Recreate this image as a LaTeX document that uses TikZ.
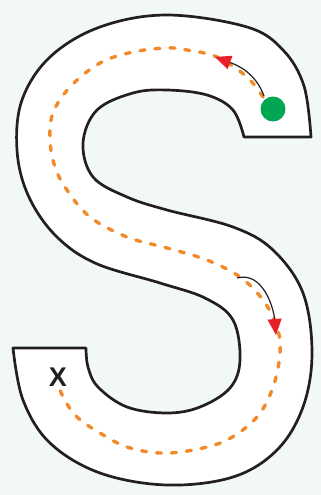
\documentclass[tikz,border=0pt]{standalone}
\usepackage{fontspec}
\setmainfont{Liberation Sans}
\usepackage{xcolor}
\usepackage{tikz}
\usetikzlibrary{arrows.meta}

\definecolor{bgmint}{HTML}{F1F8F5}
\definecolor{trackline}{HTML}{231F20}
\definecolor{pathorange}{HTML}{F28A2B}
\definecolor{startgreen}{HTML}{00A651}
\definecolor{tipred}{HTML}{E8202A}

\begin{document}
\begin{tikzpicture}[
    x=1pt, y=-1pt,
    track/.style={draw=trackline, line width=2.7pt, fill=white, line join=round},
    route/.style={draw=pathorange, line width=3.4pt, line cap=round, dash pattern=on 5pt off 10pt},
    startdot/.style={circle, fill=startgreen, minimum size=25pt, inner sep=0pt},
    goallabel/.style={font=\fontsize{27}{27}\selectfont\bfseries, text=trackline, inner sep=0pt},
    arr/.style={-{Triangle[length=16pt, width=14pt, color=tipred]}, line width=1.2pt, draw=trackline},
]

% === BACKGROUND ===
\fill[bgmint] (0,0) rectangle (321,495);
\useasboundingbox (0,0) rectangle (321,495);

% === S TRACK ===
\path[track] (244,137) -- (311,137)
    -- plot[smooth, tension=0.6] coordinates {(311,137) (304,86) (283,50) (247,27) (167,15)
       (100,27) (50,57) (22,100) (17,150) (28,195) (55,235) (95,263) (160,283) (205,298)
       (233,320) (240,360) (230,388) (200,407) (167,413) (127,407) (98,387) (88,367) (86,348)}
    -- (13,348)
    -- plot[smooth, tension=0.6] coordinates {(13,348) (23,400) (50,443) (100,473) (167,485)
       (233,477) (277,450) (303,407) (312,353) (303,293) (273,250) (233,227) (167,210)
       (127,197) (93,177) (83,143) (97,110) (133,93) (167,90) (207,95) (233,110) (244,137)}
    -- cycle;

% === DASHED ROUTE ===
\draw[route] plot[smooth, tension=0.6] coordinates {(263,97) (247,77) (217,57) (187,50)
    (167,48) (133,52) (100,63) (70,87) (53,113) (50,140) (55,167) (67,190) (90,217)
    (127,237) (167,248) (207,260) (240,277) (263,300) (277,327) (280,353) (273,387)
    (257,417) (227,440) (193,450) (160,453) (127,447) (100,433) (77,417) (63,397) (58,382)};

% === START AND GOAL ===
\node[startdot] (start) at (273,109) {};
\node[goallabel] (goal) at (58,377) {X};

% === DIRECTION ARROWS ===
\coordinate (up1)   at (264,96);
\coordinate (up2)   at (215,57);
\coordinate (down1) at (237,278);
\coordinate (down2) at (276,335);

\draw[arr] (up1) to[out=110, in=-20] (up2);
\draw[arr] (down1) to[out=15, in=95] (down2);

\end{tikzpicture}
\end{document}
